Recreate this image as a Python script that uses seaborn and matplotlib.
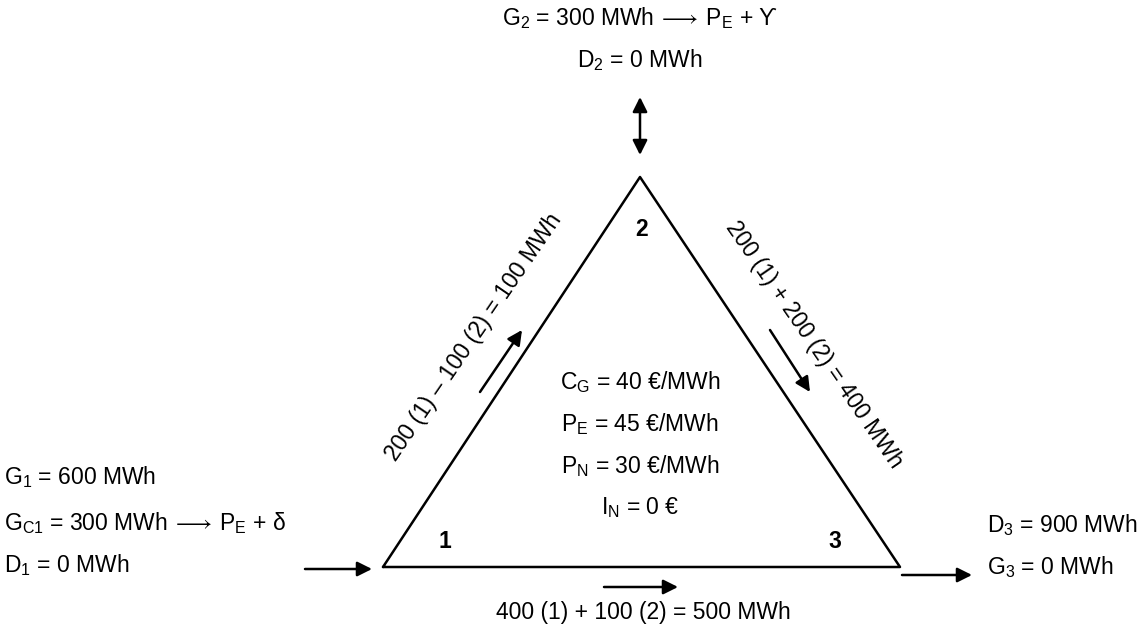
"""
Three-node network flow diagram (nodes 1, 2, 3) drawn with seaborn/matplotlib
"""
import numpy as np
import pandas as pd
import seaborn as sns
import matplotlib.pyplot as plt
from matplotlib.patches import FancyArrowPatch

sns.set_style('white')
plt.rcParams['font.family'] = ['Liberation Sans', 'DejaVu Sans']
plt.rcParams['mathtext.default'] = 'regular'
plt.rcParams['text.color'] = 'black'

# Nodes of the triangle (pixel space of the picture)
node_names = ['1', '2', '3']
node_x = [383, 640, 900]
node_y = [567, 177, 567]
node_label_x = [445, 642, 835]
node_label_y = [542, 230, 542]

# Texts around the nodes
node2_texts = [r'G$_2$ = 300 MWh$\,\longrightarrow\,$P$_E$ + ϒ', 'D$_2$ = 0 MWh']
node1_texts = ['G$_1$ = 600 MWh', r'G$_{C1}$ = 300 MWh$\,\longrightarrow\,$P$_E$ + δ', 'D$_1$ = 0 MWh']
node3_texts = ['D$_3$ = 900 MWh', 'G$_3$ = 0 MWh']
centre_texts = ['C$_G$ = 40 €/MWh', 'P$_E$ = 45 €/MWh', 'P$_N$ = 30 €/MWh', 'I$_N$ = 0 €']

# Line flows
flow_labels = ['200 (1) – 100 (2) = 100 MWh',
               '200 (1) + 200 (2) = 400 MWh',
               '400 (1) + 100 (2) = 500 MWh']

FS = 16.5

fig = plt.figure(figsize=(11.45, 6.26), dpi=100)
ax = fig.add_axes([0, 0, 1, 1])
ax.set_xlim(0, 1145)
ax.set_ylim(626, 0)
ax.axis('off')

# triangle
tri = pd.DataFrame({'x': node_x + node_x[:1], 'y': node_y + node_y[:1]})
sns.lineplot(data=tri, x='x', y='y', sort=False, estimator=None,
             color='black', lw=1.8, ax=ax)

for name, lx, ly in zip(node_names, node_label_x, node_label_y):
    ax.text(lx, ly, name, ha='center', va='center', fontsize=FS, fontweight='bold')

def arrow(x0, y0, x1, y1, style='-|>', color='black'):
    p = FancyArrowPatch((x0, y0), (x1, y1), arrowstyle=style, color=color,
                        lw=1.8, mutation_scale=22, shrinkA=0, shrinkB=0,
                        zorder=5, clip_on=False)
    ax.add_patch(p)

# node 2 (top)
for txt, y in zip(node2_texts, [18, 60]):
    ax.text(640, y, txt, ha='center', va='center', fontsize=FS)
arrow(640, 155, 640, 97, '<|-|>')

# node 1 (left)
for txt, y in zip(node1_texts, [477, 523, 565]):
    ax.text(4, y, txt, ha='left', va='center', fontsize=FS)
arrow(305, 569, 372, 569)

# node 3 (right)
for txt, y in zip(node3_texts, [525, 567]):
    ax.text(987, y, txt, ha='left', va='center', fontsize=FS)
arrow(902, 575, 972, 575)

# centre
for txt, y in zip(centre_texts, [382, 424, 466, 508]):
    ax.text(640, y, txt, ha='center', va='center', fontsize=FS)

# flows along the edges
ax.text(474, 337, flow_labels[0], ha='center', va='center', rotation=55.6,
        rotation_mode='anchor', fontsize=FS)
arrow(480, 392, 522, 330)

ax.text(814, 345, flow_labels[1], ha='center', va='center', rotation=-55.4,
        rotation_mode='anchor', fontsize=FS)
arrow(770, 330, 810, 392)

ax.text(643, 612, flow_labels[2], ha='center', va='center', fontsize=FS)
arrow(604, 587, 678, 587)

fig.savefig('out.png', dpi=100, facecolor='white')
